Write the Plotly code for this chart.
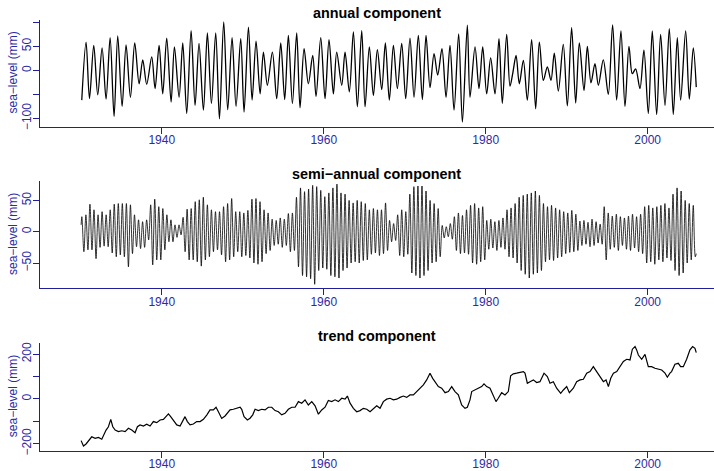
import numpy as np
import plotly.graph_objects as go

# ---------------- data ----------------
# annual component: turning points (decimal year, mm)
ann_t = [1930.12, 1930.65, 1931.07, 1931.60, 1932.09, 1932.63, 1933.12, 1933.62, 1934.11, 1934.56,
         1935.10, 1935.59, 1936.13, 1936.66, 1937.20, 1937.65, 1938.14, 1938.76, 1939.17, 1939.67,
         1940.12, 1940.61, 1941.15, 1941.56, 1942.14, 1942.59, 1943.08, 1943.62, 1944.11, 1944.60,
         1945.14, 1945.63, 1946.13, 1946.66, 1947.12, 1947.65, 1948.14, 1948.68, 1949.17,
         1949.75, 1950.16, 1950.70, 1951.15, 1951.64, 1952.14, 1952.55, 1953.04, 1953.66, 1954.19,
         1954.69, 1955.18, 1955.63, 1956.13, 1956.66, 1957.07, 1957.57, 1958.10, 1958.64, 1959.05,
         1959.63, 1960.16, 1960.65, 1961.19, 1961.60, 1962.22, 1962.63, 1963.16, 1963.66, 1964.15,
         1964.69, 1965.10, 1965.63, 1966.13, 1966.62, 1967.16, 1967.61, 1968.10, 1968.60, 1969.09,
         1969.63, 1970.12, 1970.65, 1971.15, 1971.68, 1972.18, 1972.63, 1973.12, 1973.62, 1974.07,
         1974.60, 1975.10, 1975.59, 1976.09, 1976.66, 1977.12, 1977.73,
         1978.06, 1978.68, 1979.17, 1979.63, 1980.12, 1980.61, 1981.15, 1981.64, 1982.05, 1982.59,
         1983.00, 1983.35, 1983.75, 1984.15, 1984.65, 1985.14, 1985.67, 1986.17, 1986.62, 1987.12,
         1987.61, 1988.06, 1988.47, 1988.97, 1989.58, 1990.08, 1990.61, 1991.11, 1991.56, 1992.14,
         1992.55, 1993.00, 1993.49, 1993.91, 1994.52, 1995.14, 1995.67, 1996.17, 1996.70, 1997.20,
         1997.69, 1998.10, 1998.51, 1999.05, 1999.54, 2000.08, 2000.57, 2001.11, 2001.60, 2002.14,
         2002.67, 2003.16, 2003.66, 2004.07, 2004.69, 2005.14, 2005.63, 2006.00]
ann_v = [-62, 59, -59, 52, -51, 47, -60, 68, -96, 72,
         -75, 53, -56, 57, -28, 22, -29, 28, -38, 52,
         -49, 67, -66, 49, -56, 57, -90, 83, -73, 56,
         -83, 78, -69, 78, -101, 101, -82, 68, -75,
         66, -87, 90, -62, 61, -49, 38, -31, 38, -59,
         57, -61, 73, -69, 78, -78, 45, -28, 31, -54,
         68, -59, 64, -49, 38, -31, 38, -45, 80, -76,
         83, -76, 49, -52, 43, -40, 57, -62, 52, -38,
         56, -59, 67, -56, 73, -61, 73, -36, 35, -10,
         45, -56, 52, -83, 76, -108, 94,
         -56, 49, -38, 49, -49, 26, -49, 66, -69, 75,
         -33, -5, 31, -28, 21, -62, 64, -80, 59, -21,
         7, -21, 36, -43, 54, -74, 89, -68, 57, -42,
         50, -26, 14, -31, 22, -50, 95, -62, 82, -75,
         50, -7, 3, -38, 42, -90, 82, -92, 75, -73,
         87, -92, 68, -62, 82, -60, 47, -35]

# semi-annual component: successive half-year maxima and minima (mm)
sa_first_peak = 1930.13          # time of first maximum
sa_start = (1930.04, 11)
sa_end = (2006.00, -35)
sa_upper = [24, 27, 44, 35, 27, 32, 27, 35, 44, 45, 45, 45, 43, 27, 19, 16, 19, 43, 52, 40,
            37, 27, 19, 11, 11, 23, 36, 37, 48, 51, 55, 43, 35, 32, 32, 40, 45, 53, 32,
            32, 30, 34, 52, 53, 48, 35, 30, 20, 18, 22, 20, 29, 30, 55, 70, 64, 68, 74,
            72, 66, 56, 62, 70, 76, 62, 60, 50, 46, 50, 48, 45, 35, 37, 35, 35, 46, 18, 13,
            27, 35, 32, 60, 72, 73, 73, 65, 50, 45, 37, 10, 8, 13, 24, 30, 26, 35,
            42, 45, 38, 40, 18, 20, 16, 18, 22, 35, 38, 45, 55, 58, 60, 62, 65, 58,
            45, 40, 42, 38, 35, 32, 30, 34, 28, 17, 18, 15, 20, 16, 12, 40, 30,
            25, 28, 24, 22, 25, 28, 24, 28, 40, 42, 38, 40, 42, 45, 38, 60, 70, 65, 50, 45, 42]
sa_lower = [-32, -29, -29, -43, -25, -23, -24, -34, -40, -37, -40, -56, -35, -24, -27, -25, -13, -53, -45, -45,
            -29, -16, -16, -9, -5, -32, -45, -45, -48, -55, -45, -40, -32, -29, -37, -48, -45, -40, -32,
            -40, -38, -42, -50, -52, -48, -35, -30, -22, -20, -25, -22, -32, -30, -56, -70, -72, -75, -84,
            -62, -58, -60, -70, -72, -74, -62, -58, -50, -48, -50, -46, -45, -36, -34, -38, -35, -30, -16, -14,
            -38, -40, -36, -66, -70, -74, -70, -62, -50, -48, -40, -10, -8, -12, -30, -35, -34, -36,
            -50, -52, -48, -45, -28, -26, -30, -25, -28, -40, -42, -50, -62, -68, -74, -68, -66, -62,
            -48, -45, -46, -42, -40, -35, -33, -32, -30, -22, -20, -24, -22, -18, -20, -45, -28,
            -25, -30, -22, -28, -30, -26, -32, -35, -50, -48, -52, -45, -48, -42, -46, -62, -70, -66, -50, -45, -40]

# trend component (decimal year, mm)
trend_t = [1930.04, 1930.33, 1930.65, 1930.94, 1931.35, 1931.77, 1932.18, 1932.59, 1932.88, 1933.12,
           1933.41, 1933.70, 1933.95, 1934.24, 1934.65, 1935.06, 1935.47, 1935.88, 1936.29, 1936.70,
           1936.99, 1937.32, 1937.73, 1938.14, 1938.55, 1938.96, 1939.38, 1939.79, 1940.20, 1940.53,
           1940.82, 1941.10, 1941.43, 1941.85, 1942.26, 1942.59, 1942.87, 1943.16, 1943.49, 1943.90,
           1944.31, 1944.73, 1945.14, 1945.55, 1945.96, 1946.37, 1946.70, 1946.99, 1947.40, 1947.81,
           1948.22,
           1948.43, 1948.84, 1949.25, 1949.67, 1949.87, 1950.16, 1950.57, 1950.90, 1951.23, 1951.52,
           1951.93, 1952.34, 1952.75, 1953.16, 1953.58, 1953.99, 1954.40, 1954.81, 1955.22, 1955.63,
           1956.05, 1956.46, 1956.87, 1957.28, 1957.69, 1958.10, 1958.52, 1958.93, 1959.34, 1959.75,
           1960.16, 1960.57, 1960.98, 1961.40, 1961.81, 1962.22, 1962.63, 1962.92, 1963.25, 1963.66,
           1964.07, 1964.48, 1964.89, 1965.31, 1965.72, 1966.13, 1966.54, 1966.95, 1967.36, 1967.77,
           1968.19, 1968.60, 1969.01, 1969.42, 1969.83, 1970.24, 1970.65, 1971.07, 1971.48, 1971.89,
           1972.30, 1972.71, 1973.12, 1973.45, 1973.74, 1974.15, 1974.56, 1974.98, 1975.39, 1975.80,
           1976.21, 1976.62, 1977.03, 1977.44, 1977.73,
           1978.06, 1978.27, 1978.68, 1979.09, 1979.50, 1979.79, 1980.12, 1980.53, 1980.94, 1981.27,
           1981.55, 1981.97, 1982.38, 1982.79, 1983.08, 1983.41, 1983.82, 1984.23, 1984.65, 1984.85,
           1985.14, 1985.47, 1985.88, 1986.29, 1986.70, 1987.20, 1987.61, 1987.94, 1988.35, 1988.76,
           1989.26, 1989.59, 1990.00, 1990.33, 1990.82, 1991.23, 1991.65, 1992.06, 1992.47, 1992.88,
           1993.29, 1993.70, 1994.12, 1994.53, 1994.86, 1995.15, 1995.44, 1995.77, 1996.18, 1996.59,
           1997.00, 1997.41, 1997.82, 1998.11, 1998.44, 1998.64, 1998.85, 1999.26, 1999.67, 2000.08,
           2000.49, 2000.90, 2001.31, 2001.73, 2002.14, 2002.43, 2002.75, 2002.95, 2003.37, 2003.78,
           2004.07, 2004.40, 2004.81, 2005.22, 2005.55, 2005.84, 2006.00]
trend_v = [-186, -210, -201, -186, -169, -176, -172, -180, -154, -139,
           -124, -91, -124, -139, -146, -142, -146, -131, -139, -151,
           -124, -116, -121, -113, -121, -101, -106, -94, -91, -76,
           -67, -79, -94, -116, -121, -101, -79, -101, -116, -112,
           -101, -101, -91, -72, -49, -49, -37, -57, -87, -76,
           -61,
           -49, -46, -42, -37, -46, -79, -94, -86, -71, -46,
           -52, -46, -49, -37, -37, -52, -57, -71, -64, -46,
           -37, -37, -12, -19, -4, -27, -12, -31, -68, -49,
           -37, -7, -12, -4, -12, 3, -1, 13, -19, -42,
           -57, -52, -42, -46, -57, -42, -31, -42, -12, -1,
           3, -4, -1, 7, 13, 7, 18, 18, 33, 48,
           63, 85, 115, 92, 77, 55, 48, 28, 33, 55,
           33, 18, -27, -42, -37,
           -4, 33, 40, 48, 55, 67, 55, 48, 18, -12,
           3, 28, 18, 33, 103, 112, 115, 118, 122, 115,
           70, 77, 85, 73, 77, 115, 100, 70, 77, 48,
           25, 40, 55, 28, 48, 77, 85, 88, 115, 122,
           144, 122, 100, 77, 85, 55, 92, 115, 122, 144,
           167, 177, 174, 222, 234, 219, 196, 177, 199, 144,
           144, 137, 132, 129, 115, 97, 115, 122, 155, 159,
           144, 144, 177, 219, 234, 226, 207]

titles = ["annual component", "semi\u2212annual component", "trend component"]
ylab = "sea\u2212level (mm)"
x_ticks = [1940, 1960, 1980, 2000]
y_ticks = [[-100, -50, 0, 50, 100], [-50, 0, 50], [-200, -100, 0, 100, 200]]
y_labels = [["\u2212100", "", "0", "50", ""], ["\u221250", "0", "50"],
            ["\u2212200", "", "0", "", "200"]]

# ---------------- build semi-annual sequence ----------------
n = len(sa_upper)
sa_t = [sa_start[0]]
sa_v = [sa_start[1]]
for k in range(n):
    sa_t.append(sa_first_peak + 0.5 * k)
    sa_v.append(sa_upper[k])
    sa_t.append(sa_first_peak + 0.25 + 0.5 * k)
    sa_v.append(sa_lower[k])
sa_t.append(sa_end[0])
sa_v.append(sa_end[1])

# ---------------- figure ----------------
W, H = 714, 471
AX = "#1f1f9c"
TX = "#2b2ba8"
FONT = "Liberation Sans, Arial, Helvetica, sans-serif"

# pixel geometry (top, bottom) of each panel plot region
panels = [(19.5, 126.5), (180.7, 288.3), (342.7, 450.7)]
yranges = [[-117.0, 106.0], [-90.4, 81.5], [-231.0, 251.0]]
x_left, x_right = 39.5, 714.0
xrange_ = [1924.9, 2008.19]

def px(x):
    return x / W

def py(y):
    return 1 - y / H

fig = go.Figure()
series = [(ann_t, ann_v, "spline", 1.3), (sa_t, sa_v, "spline", 0.8), (trend_t, trend_v, "linear", 1.2)]
for i, (tt, vv, shape, lw) in enumerate(series):
    sfx = "" if i == 0 else str(i + 1)
    fig.add_trace(go.Scatter(x=tt, y=vv, mode="lines",
                             line=dict(color="black", width=lw, shape=shape,
                                       smoothing=0.9 if shape == "spline" else None),
                             xaxis="x" + sfx, yaxis="y" + sfx, showlegend=False,
                             hoverinfo="skip"))

layout = dict(width=W, height=H, margin=dict(l=0, r=0, t=0, b=0, autoexpand=False),
              paper_bgcolor="white", plot_bgcolor="white",
              font=dict(family=FONT, size=12, color=TX), showlegend=False)
annotations = []
for i, (top, bot) in enumerate(panels):
    sfx = "" if i == 0 else str(i + 1)
    layout["xaxis" + sfx] = dict(domain=[px(x_left), px(x_right)], range=xrange_,
                                 anchor="y" + sfx, showgrid=False, zeroline=False,
                                 showline=True, linecolor=AX, linewidth=1,
                                 ticks="outside", ticklen=6, tickcolor=AX, tickwidth=1,
                                 tickvals=x_ticks, ticktext=[str(v) for v in x_ticks],
                                 ticklabelstandoff=-4,
                                 tickfont=dict(family=FONT, size=12, color=TX),
                                 automargin=False)
    layout["yaxis" + sfx] = dict(domain=[py(bot), py(top)], range=yranges[i], anchor="x" + sfx,
                                 showgrid=False, zeroline=False,
                                 showline=True, linecolor=AX, linewidth=1,
                                 ticks="outside", ticklen=6, tickcolor=AX, tickwidth=1,
                                 tickvals=y_ticks[i], ticktext=y_labels[i], tickangle=-90,
                                 ticklabelstandoff=-3,
                                 tickfont=dict(family=FONT, size=12, color=TX),
                                 automargin=False)
    annotations.append(dict(text="<b>%s</b>" % titles[i], xref="paper", yref="paper",
                            x=px((x_left + x_right) / 2), y=py(top - 6.5),
                            xanchor="center", yanchor="middle", showarrow=False,
                            borderpad=0,
                            font=dict(family=FONT, size=14.4, color="black")))
    annotations.append(dict(text=ylab, xref="paper", yref="paper",
                            x=px(12.5), y=py((top + bot) / 2), textangle=-90,
                            xanchor="center", yanchor="middle", showarrow=False,
                            borderpad=0,
                            font=dict(family=FONT, size=12, color=TX)))
layout["annotations"] = annotations
fig.update_layout(**layout)
fig.write_html("out.html",
               config={"displayModeBar": False, "staticPlot": True},
               post_script="document.body.style.margin='0';document.body.style.overflow='hidden';")
